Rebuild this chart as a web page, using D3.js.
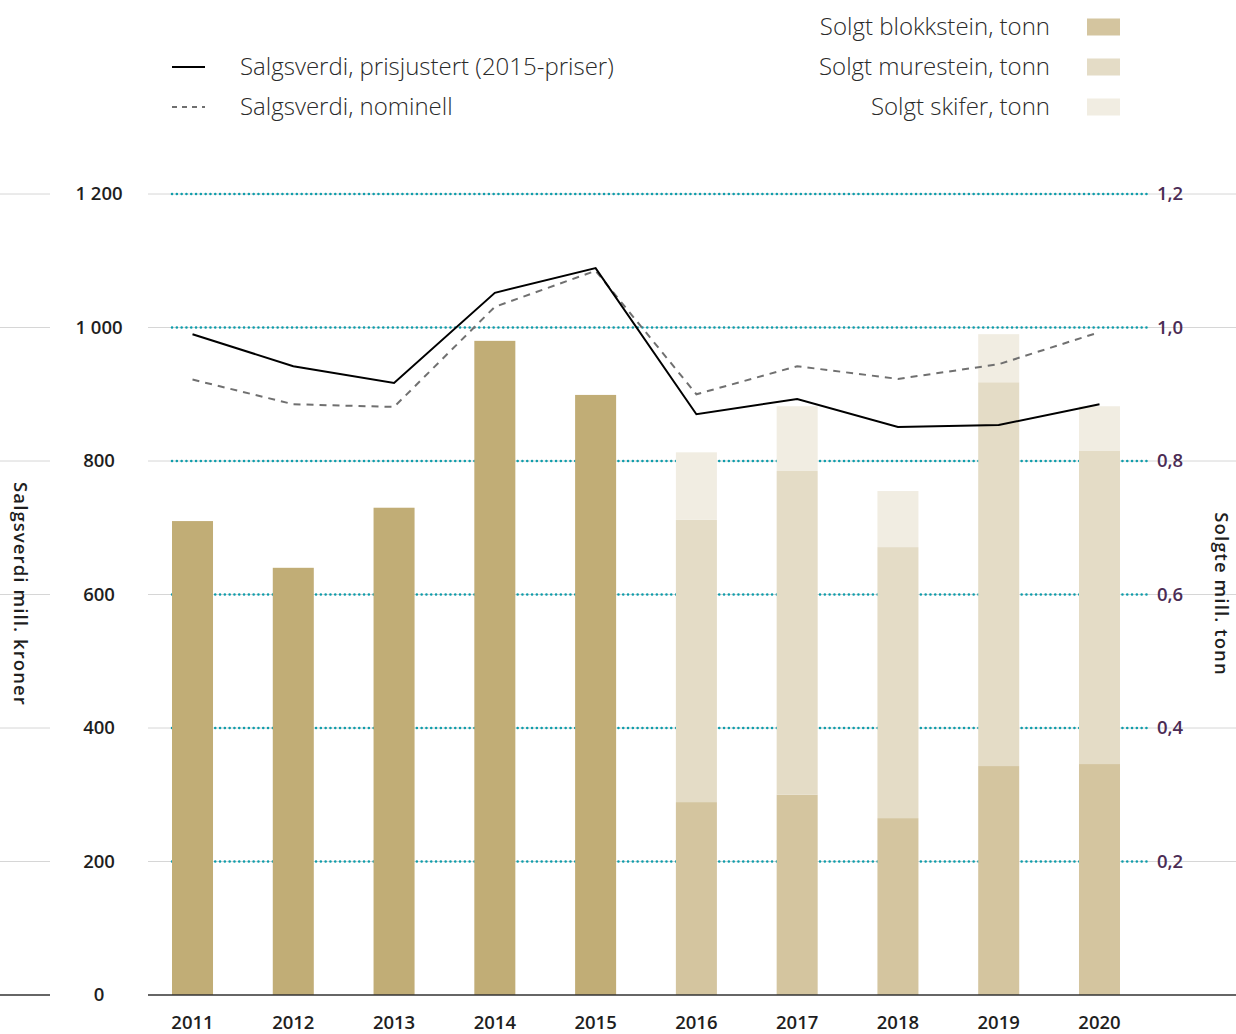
<!DOCTYPE html>
<html lang="no">
<head>
    <meta charset="UTF-8">
    <title>Salgsverdi og solgt stein</title>
    <script src="https://cdnjs.cloudflare.com/ajax/libs/d3/7.8.5/d3.min.js"></script>
    <style>
        body {
            margin: 0;
            background: #fff;
            font-family: "Open Sans", sans-serif;
        }
        svg { display: block; }
        .tick-left { font-size: 18.5px; font-weight: 600; fill: #1e1e1e; }
        .tick-right { font-size: 18.5px; font-weight: 600; fill: #4b2c55; }
        .year { font-size: 18.5px; font-weight: 600; fill: #1e1e1e; }
        .axis-title { font-size: 18.5px; font-weight: 600; fill: #1e1e1e; letter-spacing: 1.1px; }
        .legend { font-size: 24px; font-weight: 300; fill: #2a2a2a; }
    </style>
</head>
<body>
<svg width="1236" height="1034"></svg>
<script>
    // years on the x axis
    const years = ["2011", "2012", "2013", "2014", "2015", "2016", "2017", "2018", "2019", "2020"];

    // sold tonnes (mill. tonn), right axis
    const solgtTotal = [0.710, 0.640, 0.730, 0.980, 0.899, null, null, null, null, null];
    const solgtBlokkstein = [null, null, null, null, null, 0.289, 0.300, 0.265, 0.343, 0.346];
    const solgtMurestein = [null, null, null, null, null, 0.423, 0.485, 0.406, 0.575, 0.469];
    const solgtSkifer = [null, null, null, null, null, 0.101, 0.097, 0.084, 0.072, 0.067];

    // sales value (mill. kroner), left axis
    const prisjustert = [990, 942, 917, 1052, 1089, 870, 893, 851, 854, 885];
    const nominell = [922, 885, 881, 1031, 1085, 900, 942, 923, 945, 993];

    const leftTicks = [0, 200, 400, 600, 800, 1000, 1200];
    const rightTicks = [0.2, 0.4, 0.6, 0.8, 1.0, 1.2];

    const svg = d3.select("svg");

    const x = d3.scaleBand()
        .domain(years)
        .range([172, 1120])
        .paddingInner(0.593)
        .paddingOuter(0);

    const yLeft = d3.scaleLinear().domain([0, 1200]).range([995, 194]);
    const yRight = d3.scaleLinear().domain([0, 1.2]).range([995, 194]);

    const fmtLeft = d => d3.format(",")(d).replace(/,/g, " ");
    const fmtRight = d => d3.format(".1f")(d).replace(".", ",");

    // gridlines
    const grid = svg.append("g");
    leftTicks.filter(d => d > 0).forEach(d => {
        const y = yLeft(d);
        grid.append("line").attr("x1", 0).attr("x2", 50).attr("y1", y).attr("y2", y)
            .attr("stroke", "#d6d6d6").attr("stroke-width", 1);
        grid.append("line").attr("x1", 148).attr("x2", 1236).attr("y1", y).attr("y2", y)
            .attr("stroke", "#d6d6d6").attr("stroke-width", 1);
        grid.append("line").attr("x1", 172).attr("x2", 1150).attr("y1", y).attr("y2", y)
            .attr("stroke", "#0f9dab").attr("stroke-width", 2.5)
            .attr("stroke-linecap", "round")
            .attr("stroke-dasharray", "0.1,4.7");
    });

    // left tick labels
    svg.append("g").selectAll("text")
        .data(leftTicks)
        .enter().append("text")
        .attr("class", "tick-left")
        .attr("x", 99)
        .attr("y", d => yLeft(d))
        .attr("dy", "0.35em")
        .attr("text-anchor", "middle")
        .text(fmtLeft);

    // right tick labels
    svg.append("g").selectAll("text")
        .data(rightTicks)
        .enter().append("text")
        .attr("class", "tick-right")
        .attr("x", 1157)
        .attr("y", d => yRight(d))
        .attr("dy", "0.35em")
        .text(fmtRight);

    // bars
    const bars = svg.append("g");
    const colTotal = "#c1ad76", colBlokk = "#d4c59f", colMure = "#e4dcc6", colSkifer = "#f1ede2";

    years.forEach((yr, i) => {
        if (solgtTotal[i] != null) {
            bars.append("rect")
                .attr("x", x(yr)).attr("width", x.bandwidth())
                .attr("y", yRight(solgtTotal[i]))
                .attr("height", yRight(0) - yRight(solgtTotal[i]))
                .attr("fill", colTotal);
        } else {
            const parts = [
                [solgtBlokkstein[i], colBlokk],
                [solgtMurestein[i], colMure],
                [solgtSkifer[i], colSkifer]
            ];
            let base = 0;
            parts.forEach(([v, c]) => {
                bars.append("rect")
                    .attr("x", x(yr)).attr("width", x.bandwidth())
                    .attr("y", yRight(base + v))
                    .attr("height", yRight(base) - yRight(base + v))
                    .attr("fill", c);
                base += v;
            });
        }
    });

    // baseline
    svg.append("line").attr("x1", 0).attr("x2", 50).attr("y1", yLeft(0)).attr("y2", yLeft(0))
        .attr("stroke", "#333").attr("stroke-width", 1.5);
    svg.append("line").attr("x1", 148).attr("x2", 1236).attr("y1", yLeft(0)).attr("y2", yLeft(0))
        .attr("stroke", "#333").attr("stroke-width", 1.5);

    // year labels
    svg.append("g").selectAll("text")
        .data(years)
        .enter().append("text")
        .attr("class", "year")
        .attr("x", d => x(d) + x.bandwidth() / 2)
        .attr("y", 1023)
        .attr("dy", "0.35em")
        .attr("text-anchor", "middle")
        .text(d => d);

    // lines
    const line = d3.line()
        .x((d, i) => x(years[i]) + x.bandwidth() / 2)
        .y(d => yLeft(d));

    svg.append("path")
        .datum(nominell)
        .attr("d", line)
        .attr("fill", "none")
        .attr("stroke", "#707070")
        .attr("stroke-width", 2)
        .attr("stroke-dasharray", "7,6");

    svg.append("path")
        .datum(prisjustert)
        .attr("d", line)
        .attr("fill", "none")
        .attr("stroke", "#000")
        .attr("stroke-width", 2);

    // axis titles
    svg.append("text")
        .attr("class", "axis-title")
        .attr("transform", "translate(20,594) rotate(90)")
        .attr("text-anchor", "middle")
        .attr("dy", "0.35em")
        .text("Salgsverdi mill. kroner");

    svg.append("text")
        .attr("class", "axis-title")
        .attr("transform", "translate(1221,594) rotate(90)")
        .attr("text-anchor", "middle")
        .attr("dy", "0.35em")
        .text("Solgte mill. tonn");

    // legend, lines
    const lineLegend = [
        { label: "Salgsverdi, prisjustert (2015-priser)", stroke: "#000", dash: null, y: 67 },
        { label: "Salgsverdi, nominell", stroke: "#707070", dash: "5,5", y: 107 }
    ];
    lineLegend.forEach(d => {
        svg.append("line")
            .attr("x1", 172).attr("x2", 205).attr("y1", d.y).attr("y2", d.y)
            .attr("stroke", d.stroke).attr("stroke-width", 2)
            .attr("stroke-dasharray", d.dash);
        svg.append("text")
            .attr("class", "legend")
            .attr("x", 240).attr("y", d.y).attr("dy", "0.35em")
            .text(d.label);
    });

    // legend, bars
    const barLegend = [
        { label: "Solgt blokkstein, tonn", fill: colBlokk, y: 27 },
        { label: "Solgt murestein, tonn", fill: colMure, y: 67 },
        { label: "Solgt skifer, tonn", fill: colSkifer, y: 107 }
    ];
    barLegend.forEach(d => {
        svg.append("rect")
            .attr("x", 1087).attr("y", d.y - 8.5).attr("width", 33).attr("height", 17)
            .attr("fill", d.fill);
        svg.append("text")
            .attr("class", "legend")
            .attr("x", 1050).attr("y", d.y).attr("dy", "0.35em")
            .attr("text-anchor", "end")
            .text(d.label);
    });
</script>
</body>
</html>
